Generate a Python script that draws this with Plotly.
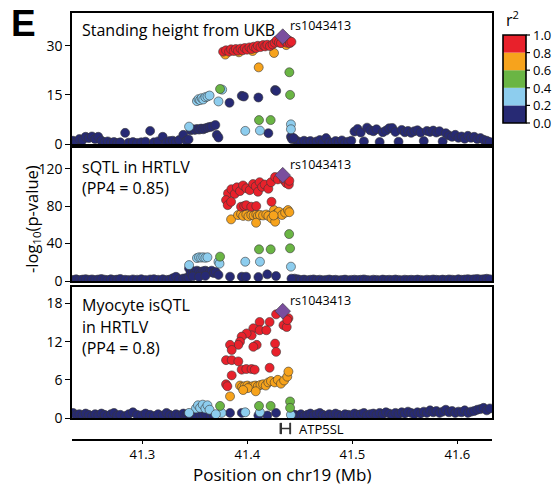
import plotly.graph_objects as go

# ---------------- data ----------------
x_range = [41.233, 41.633]
x_ticks = [41.3, 41.4, 41.5, 41.6]
x_ticktext = ["41.3", "41.4", "41.5", "41.6"]
x_title = "Position on chr19 (Mb)"

# background SNPs (r2 < 0.2) shared positions
bg_left_pos = [41.234, 41.237, 41.240, 41.243, 41.246, 41.249, 41.252, 41.255, 41.258, 41.261,
               41.264, 41.267, 41.270, 41.273, 41.276, 41.279, 41.2836, 41.287, 41.291, 41.295,
               41.299, 41.303, 41.3074, 41.311, 41.315, 41.3194, 41.323, 41.326, 41.329, 41.332,
               41.335, 41.339, 41.342, 41.344]
bg_right_pos = [41.445, 41.448, 41.451, 41.454, 41.457, 41.460, 41.463, 41.466, 41.469, 41.472,
                41.475, 41.478, 41.481, 41.484, 41.487, 41.490, 41.493, 41.496, 41.499, 41.502,
                41.505, 41.508, 41.511, 41.514, 41.517, 41.520, 41.523, 41.526, 41.529, 41.532,
                41.535, 41.538, 41.541, 41.544, 41.547, 41.550, 41.553, 41.556, 41.559, 41.562,
                41.565, 41.568, 41.571, 41.574, 41.577, 41.580, 41.583, 41.586, 41.589, 41.592,
                41.595, 41.598, 41.601, 41.604, 41.607, 41.610, 41.613, 41.616, 41.619, 41.622,
                41.625, 41.628, 41.631]

ukb_bg_left = [1.0, 0.6, 1.5, 1.2, 2.2, 1.8, 2.3, 1.5, 2.2, 1.0,
               0.5, 0.8, 0.4, 0.6, 0.3, 0.5, 3.4, 0.4, 0.6, 0.3,
               0.5, 0.7, 4.0, 0.5, 0.8, 2.2, 0.4, 0.9, 1.0, 0.6,
               1.2, 2.8, 1.0, 1.4]
ukb_bg_right = [1.5, 0.8, 0.5, 1.0, 0.6, 0.9, 0.4, 0.8, 1.2, 0.5,
                1.8, 0.6, 0.3, 0.9, 0.5, 1.1, 0.4, 0.7, 1.0, 3.8,
                4.6, 3.5, 0.8, 5.0, 4.2, 3.9, 4.5, 0.6, 3.6, 4.1,
                4.8, 4.9, 3.7, 0.7, 4.3, 3.6, 4.0, 3.4, 3.9, 4.2,
                3.5, 0.9, 4.0, 3.7, 4.1, 3.5, 3.9, 0.8, 3.3, 2.6,
                2.2, 2.8, 1.9, 2.3, 1.6, 2.5, 1.9, 2.2, 1.5, 1.8,
                1.3, 1.0, 0.6]
sqtl_bg_left = [1.2, 1.8, 1.0, 1.5, 2.0, 1.3, 1.7, 1.1, 1.6, 2.1,
                1.4, 1.0, 1.8, 1.2, 1.5, 2.2, 1.3, 1.0, 1.7, 1.4,
                1.9, 1.1, 1.6, 2.0, 1.3, 1.8, 1.2, 1.5, 3.0, 4.5,
                2.0, 2.6, 3.2, 4.0]
sqtl_bg_right = [2.5, 1.8, 1.2, 1.5, 0.9, 1.3, 1.7, 1.0, 1.4, 0.8,
                 1.2, 1.6, 1.0, 1.3, 0.7, 1.1, 1.5, 0.9, 1.2, 1.4,
                 1.0, 1.3, 1.7, 1.1, 0.8, 1.4, 1.2, 0.9, 1.5, 1.1,
                 1.3, 1.0, 1.6, 1.2, 0.9, 1.4, 1.1, 1.3, 1.0, 1.5,
                 1.2, 0.8, 1.4, 1.1, 1.6, 1.3, 1.0, 1.5, 1.2, 1.7,
                 1.4, 1.1, 1.8, 1.3, 1.6, 2.0, 1.5, 1.8, 2.2, 1.6,
                 2.0, 2.4, 1.8]
myo_bg_left = [0.8, 0.5, 0.6, 0.4, 0.7, 0.5, 0.3, 0.6, 0.4, 0.7,
               0.5, 0.3, 0.6, 0.8, 0.4, 0.5, 0.3, 0.6, 0.9, 0.5,
               0.4, 0.7, 0.5, 0.3, 0.6, 0.4, 0.8, 0.5, 0.3, 0.6,
               0.4, 0.7, 0.5, 0.6]
myo_bg_right = [0.5, 0.4, 0.6, 0.3, 0.5, 0.7, 0.4, 0.6, 0.8, 0.5,
                0.3, 0.6, 0.4, 0.7, 0.5, 0.3, 0.6, 0.5, 0.4, 0.7,
                0.5, 0.6, 0.8, 0.4, 0.6, 0.7, 0.5, 0.8, 0.6, 0.9,
                0.7, 0.5, 0.8, 0.6, 0.9, 0.7, 1.0, 0.8, 0.6, 0.9,
                0.7, 1.0, 0.8, 1.2, 0.9, 1.1, 0.8, 1.0, 1.3, 0.9,
                1.1, 0.8, 1.0, 0.9, 1.2, 0.8, 1.0, 1.1, 1.3, 1.4,
                1.6, 1.2, 1.5]

# --- Panel 1: standing height (UKB), by r2 bin ---
ukb_r0_x = [41.3830, 41.3947, 41.3967, 41.4105, 41.4264, 41.4275, 41.3460, 41.3480, 41.3500, 41.3520,
            41.3540, 41.3560, 41.3580, 41.3600, 41.3620, 41.3640, 41.3660, 41.3695, 41.3709, 41.3725,
            41.4200, 41.4415, 41.4425, 41.4440]
ukb_r0_y = [12.6, 14.7, 14.5, 14.2, 16.5, 16.2, 4.2, 4.5, 4.3, 4.6,
            4.4, 4.7, 4.5, 4.8, 5.0, 5.2, 5.3, 5.8, 2.8, 2.0,
            3.3, 2.2, 1.5, 1.8]
ukb_r2_x = [41.3520, 41.3535, 41.3550, 41.3565, 41.3580, 41.3600, 41.3620, 41.3640, 41.3725, 41.3760,
            41.3445, 41.3980, 41.4120, 41.4415, 41.4415]
ukb_r2_y = [13.1, 13.7, 13.4, 14.0, 13.6, 14.3, 14.5, 14.8, 13.0, 16.6,
            5.3, 4.0, 4.1, 6.0, 4.5]
ukb_r4_x = [41.3740, 41.4400, 41.4407, 41.4111, 41.4222]
ukb_r4_y = [16.8, 21.9, 15.0, 7.3, 7.3]
ukb_r6_x = [41.3790, 41.3920, 41.4050, 41.4254, 41.4108, 41.4370]
ukb_r6_y = [27.3, 28.0, 28.4, 27.8, 23.4, 30.2]
ukb_r8_x = [41.3769, 41.3797, 41.3826, 41.3845, 41.3870, 41.3890, 41.3911, 41.3935, 41.3955, 41.3975,
            41.3997, 41.4020, 41.4040, 41.4060, 41.4083, 41.4100, 41.4125, 41.4150, 41.4170, 41.4190,
            41.4215, 41.4240, 41.4260, 41.4280, 41.4300, 41.4320, 41.4360, 41.4380, 41.4395, 41.4405,
            41.4420]
ukb_r8_y = [28.2, 28.6, 28.2, 28.9, 28.4, 29.0, 28.5, 29.1, 28.6, 29.3,
            28.8, 29.5, 29.0, 29.7, 29.3, 30.0, 29.6, 30.2, 29.8, 30.3,
            29.9, 30.4, 30.9, 31.6, 31.0, 30.8, 31.3, 30.9, 31.6, 30.8,
            31.2]

# --- Panel 2: sQTL in HRTLV ---
sqtl_r0_x = [41.3445, 41.3460, 41.3480, 41.3500, 41.3520, 41.3540, 41.3560, 41.3580, 41.3600, 41.3620,
             41.3640, 41.3660, 41.3680, 41.3700, 41.3725, 41.3480, 41.3540, 41.3600, 41.3835, 41.3947,
             41.3988, 41.4105, 41.4190, 41.4273, 41.4420]
sqtl_r0_y = [13.5, 9.0, 10.5, 9.5, 11.0, 10.0, 9.0, 10.5, 11.0, 10.0,
             9.5, 11.0, 8.5, 9.5, 6.5, 5.0, 4.5, 5.5, 4.6, 4.6,
             4.6, 4.2, 7.1, 5.3, 2.5]
sqtl_r2_x = [41.3520, 41.3540, 41.3560, 41.3580, 41.3600, 41.3620, 41.3725, 41.3735, 41.3445, 41.3980,
             41.4120, 41.4415]
sqtl_r2_y = [24.5, 25.3, 25.0, 25.3, 24.8, 25.3, 20.6, 18.5, 17.0, 20.6,
             20.6, 15.3]
sqtl_r4_x = [41.3740, 41.4111, 41.4222, 41.4398, 41.4407]
sqtl_r4_y = [26.0, 33.8, 33.8, 50.1, 34.9]
sqtl_r6_x = [41.3845, 41.3911, 41.3940, 41.3960, 41.3990, 41.4010, 41.4037, 41.4060, 41.4085, 41.4100,
             41.4120, 41.4150, 41.4180, 41.4200, 41.4230, 41.4254, 41.4265, 41.4280, 41.4300, 41.4330,
             41.4360, 41.4387, 41.4400, 41.4083, 41.4250]
sqtl_r6_y = [65.8, 70.4, 71.5, 69.5, 71.0, 69.0, 70.5, 70.0, 71.0, 69.5,
             70.5, 70.0, 71.0, 69.5, 66.9, 75.7, 63.3, 72.0, 74.0, 70.5,
             73.0, 75.7, 73.5, 62.2, 70.0]
sqtl_r8_x = [41.3816, 41.3848, 41.3880, 41.3900, 41.3930, 41.3959, 41.3990, 41.4023, 41.4054, 41.4080,
             41.4101, 41.4117, 41.4140, 41.4165, 41.4200, 41.4226, 41.4264, 41.4290, 41.4350, 41.4371,
             41.4395, 41.4400, 41.3797, 41.3813, 41.3845, 41.3940, 41.3970, 41.3990, 41.4037, 41.4085,
             41.4230]
sqtl_r8_y = [93.5, 98.0, 93.0, 100.0, 96.0, 102.0, 99.0, 97.0, 103.5, 101.0,
             95.3, 105.5, 100.5, 103.0, 98.5, 105.5, 111.0, 108.5, 107.5, 104.5,
             103.0, 107.0, 86.4, 81.0, 84.6, 79.3, 80.0, 81.0, 79.3, 80.0,
             84.6]

# --- Panel 3: Myocyte isQTL in HRTLV ---
myo_r0_x = [41.3460, 41.3490, 41.3520, 41.3550, 41.3580, 41.3610, 41.3650, 41.3680, 41.3835, 41.3947,
            41.4190, 41.4273, 41.4105, 41.4430]
myo_r0_y = [0.4, 0.6, 0.3, 0.5, 0.4, 0.6, 0.3, 0.5, 0.8, 0.8,
            0.4, 0.8, 0.4, 0.6]
myo_r2_x = [41.3510, 41.3530, 41.3550, 41.3575, 41.3600, 41.3620, 41.3640, 41.3445, 41.3755, 41.3980,
            41.4120, 41.4415, 41.3700]
myo_r2_y = [1.5, 2.0, 1.6, 2.1, 1.5, 2.0, 1.3, 0.8, 0.8, 0.9,
            0.9, 0.5, 0.6]
myo_r4_x = [41.3740, 41.4111, 41.4222, 41.4407, 41.4407]
myo_r4_y = [1.9, 1.9, 1.9, 2.6, 1.6]
myo_r6_x = [41.3835, 41.3930, 41.3950, 41.3975, 41.4000, 41.4025, 41.4050, 41.4075, 41.4100, 41.4125,
            41.4150, 41.4175, 41.4200, 41.4225, 41.4260, 41.4290, 41.4320, 41.4350, 41.4380, 41.4391,
            41.4005, 41.4080, 41.3960]
myo_r6_y = [3.4, 5.1, 4.9, 5.0, 5.1, 4.9, 5.0, 5.1, 5.0, 5.2,
            5.3, 5.1, 5.6, 5.8, 5.6, 6.0, 5.4, 5.9, 6.5, 7.3,
            4.7, 4.2, 4.4]
myo_r8_x = [41.4274, 41.4117, 41.4212, 41.4057, 41.4117, 41.4181, 41.4041, 41.3993, 41.3946, 41.3930,
            41.3914, 41.3835, 41.3851, 41.4089, 41.4057, 41.4264, 41.4274, 41.4344, 41.4375, 41.4391,
            41.4380, 41.3797, 41.3851, 41.3914, 41.3851, 41.3946, 41.3990, 41.4040, 41.4070, 41.4212,
            41.3797, 41.3810]
myo_r8_y = [16.3, 15.1, 15.1, 14.1, 13.8, 13.8, 13.0, 13.3, 12.8, 12.0,
            11.5, 11.5, 10.7, 11.5, 11.2, 11.7, 10.4, 14.6, 14.3, 15.7,
            15.4, 9.1, 9.1, 8.9, 6.7, 7.6, 7.7, 7.7, 7.6, 7.9,
            5.3, 5.0]

lead_snp = "rs1043413"
lead_pos = 41.4337
lead_vals = [32.8, 113.0, 16.8]

panel_titles = [["Standing height from UKB"],
                ["sQTL in HRTLV", "(PP4 = 0.85)"],
                ["Myocyte isQTL", "in HRTLV", "(PP4 = 0.8)"]]
y_ranges = [[0, 40], [0, 142], [0, 20.6]]
y_ticks = [[0, 15, 30], [0, 40, 80, 120], [0, 6, 12, 18]]

gene_name = "ATP5SL"
gene_start = 41.4312
gene_end = 41.4412
exon_starts = [41.4312, 41.4322, 41.4404]
exon_ends = [41.4315, 41.4325, 41.4412]

r2_ticks = [0.0, 0.2, 0.4, 0.6, 0.8, 1.0]
r2_ticktext = ["0.0", "0.2", "0.4", "0.6", "0.8", "1.0"]

# ---------------- style ----------------
C_NAVY = "#272a74"
C_LB = "#8dcdee"
C_GREEN = "#6ab544"
C_ORANGE = "#f7a31c"
C_RED = "#e8212b"
C_PURPLE = "#7a4e9e"
bin_colors = [C_NAVY, C_LB, C_GREEN, C_ORANGE, C_RED]
FONT = "Open Sans"
PT = 9
OUTLINE = dict(color="rgba(55,55,55,0.85)", width=0.7)

fig = go.Figure()

panels = [
    (ukb_bg_left + ukb_bg_right, [(ukb_r0_x, ukb_r0_y), (ukb_r2_x, ukb_r2_y), (ukb_r4_x, ukb_r4_y),
                                  (ukb_r6_x, ukb_r6_y), (ukb_r8_x, ukb_r8_y)]),
    (sqtl_bg_left + sqtl_bg_right, [(sqtl_r0_x, sqtl_r0_y), (sqtl_r2_x, sqtl_r2_y), (sqtl_r4_x, sqtl_r4_y),
                                    (sqtl_r6_x, sqtl_r6_y), (sqtl_r8_x, sqtl_r8_y)]),
    (myo_bg_left + myo_bg_right, [(myo_r0_x, myo_r0_y), (myo_r2_x, myo_r2_y), (myo_r4_x, myo_r4_y),
                                  (myo_r6_x, myo_r6_y), (myo_r8_x, myo_r8_y)]),
]
bg_pos = bg_left_pos + bg_right_pos

for i, (bg_vals, groups) in enumerate(panels):
    xa = "x" if i == 0 else f"x{i+1}"
    ya = "y" if i == 0 else f"y{i+1}"
    fig.add_trace(go.Scatter(x=bg_pos, y=bg_vals, mode="markers", xaxis=xa, yaxis=ya,
                             marker=dict(size=PT, color=C_NAVY, line=OUTLINE), showlegend=False,
                             hoverinfo="skip"))
    for (gx, gy), col in zip(groups, bin_colors):
        fig.add_trace(go.Scatter(x=gx, y=gy, mode="markers", xaxis=xa, yaxis=ya,
                                 marker=dict(size=PT, color=col, line=OUTLINE), showlegend=False))
    fig.add_trace(go.Scatter(x=[lead_pos], y=[lead_vals[i]], mode="markers", xaxis=xa, yaxis=ya,
                             marker=dict(size=12, symbol="diamond", color=C_PURPLE, line=OUTLINE),
                             showlegend=False))

# ---------------- layout ----------------
W, H = 555, 486
ML, MR, MT, MB = 72, 63, 13, 47
plot_w = W - ML - MR
plot_h = H - MT - MB
def py(px):
    return (H - MB - px) / plot_h
def pxx(px):
    return (px - ML) / plot_w

doms = [[py(144), 1.0], [py(281), py(148)], [py(418), py(287)]]
axis_common = dict(showline=True, linecolor="black", linewidth=1.5, mirror=True, showgrid=False,
                   zeroline=False, automargin=False)
tickfont = dict(family=FONT, size=14, color="black")

layout = dict(
    width=W, height=H, margin=dict(l=ML, r=MR, t=MT, b=MB, pad=0, autoexpand=False),
    paper_bgcolor="white", plot_bgcolor="white", font=dict(family=FONT, color="black"),
)
for i in range(3):
    sfx = "" if i == 0 else str(i + 1)
    layout["xaxis" + sfx] = dict(domain=[0, 1], range=x_range, anchor="y" + sfx,
                                 showticklabels=False, ticks="", **axis_common)
    layout["yaxis" + sfx] = dict(domain=doms[i], range=y_ranges[i], anchor="x" + sfx,
                                 tickvals=y_ticks[i], ticks="outside", ticklen=5, tickwidth=1.2,
                                 tickcolor="black", tickfont=tickfont, **axis_common)
layout["xaxis4"] = dict(domain=[0, 1], range=x_range, anchor="y4", showline=True, linecolor="black",
                        linewidth=1.5, showgrid=False, zeroline=False, automargin=False,
                        tickvals=x_ticks, ticktext=x_ticktext, ticks="outside", ticklen=3,
                        tickcolor="black", tickfont=dict(family=FONT, size=13, color="black"))
layout["yaxis4"] = dict(domain=[0, py(418)], range=[0, 1], anchor="x4", visible=False)
fig.update_layout(**layout)

ann = []
shapes = []
shifts = [[-17], [-19, -40], [-18, -40, -61]]
for i, lines in enumerate(panel_titles):
    sfx = "" if i == 0 else str(i + 1)
    for ln, ys in zip(lines, shifts[i]):
        ann.append(dict(text=ln, xref="x" + sfx + " domain", yref="y" + sfx + " domain", x=0, y=1,
                        xanchor="left", yanchor="middle", xshift=8, yshift=ys, showarrow=False,
                        font=dict(family=FONT, size=16, color="black")))
    ann.append(dict(text=lead_snp, xref="x" + sfx, yref="y" + sfx, x=lead_pos, y=lead_vals[i],
                    xanchor="left", yanchor="middle", xshift=5, yshift=11, showarrow=False,
                    font=dict(family=FONT, size=12.5, color="black")))
ann.append(dict(text=gene_name, xref="x4", yref="y4", x=gene_end, y=0.5, xanchor="left",
                yanchor="middle", xshift=6, showarrow=False, font=dict(family=FONT, size=13, color="black")))
ann.append(dict(text=x_title, xref="paper", yref="paper", x=0.5, y=py(475),
                xanchor="center", yanchor="middle", showarrow=False,
                font=dict(family=FONT, size=17, color="black")))
ann.append(dict(text="-log<sub>10</sub>(p-value)", xref="paper", yref="paper",
                x=pxx(32), y=py(219), xanchor="center", yanchor="middle",
                textangle=-90, showarrow=False, font=dict(family=FONT, size=16.5, color="black")))
ann.append(dict(text="E", xref="paper", yref="paper", x=pxx(23), y=py(23),
                xanchor="center", yanchor="middle", showarrow=False,
                font=dict(family="Liberation Sans", size=37, color="black", weight="bold")))
ann.append(dict(text="r<sup>2</sup>", xref="paper", yref="paper", x=pxx(504),
                y=py(19), xanchor="left", yanchor="middle", showarrow=False,
                font=dict(family=FONT, size=16, color="black")))

# r2 colour key (drawn from r2_ticks)
cb_x0, cb_x1, cb_top, cb_bot = 503, 526, 35, 123
def cb_y(v):
    return cb_bot - v * (cb_bot - cb_top)
for k, col in enumerate(bin_colors):
    shapes.append(dict(type="rect", xref="paper", yref="paper", x0=pxx(cb_x0), x1=pxx(cb_x1),
                       y0=py(cb_y(r2_ticks[k])), y1=py(cb_y(r2_ticks[k + 1])),
                       fillcolor=col, line=dict(width=0), layer="above"))
shapes.append(dict(type="rect", xref="paper", yref="paper", x0=pxx(cb_x0), x1=pxx(cb_x1),
                   y0=py(cb_bot), y1=py(cb_top), line=dict(color="black", width=1.6), layer="above"))
for v, t in zip(r2_ticks, r2_ticktext):
    shapes.append(dict(type="line", xref="paper", yref="paper", x0=pxx(cb_x1), x1=pxx(cb_x1 + 4),
                       y0=py(cb_y(v)), y1=py(cb_y(v)), line=dict(color="black", width=1.2)))
    ann.append(dict(text=t, xref="paper", yref="paper", x=pxx(cb_x1 + 5), y=py(cb_y(v)),
                    xanchor="left", yanchor="middle", showarrow=False,
                    font=dict(family=FONT, size=13, color="black")))

# gene glyph
shapes.append(dict(type="line", xref="x4", yref="y4", x0=gene_start, x1=gene_end, y0=0.5, y1=0.5,
                   line=dict(color="#333", width=1.5)))
for s, e in zip(exon_starts, exon_ends):
    shapes.append(dict(type="rect", xref="x4", yref="y4", x0=s, x1=e, y0=0.24, y1=0.76,
                       fillcolor="#333", line=dict(color="#333", width=1)))
fig.update_layout(annotations=ann, shapes=shapes)

fig.write_html("out.html", config={"displayModeBar": False},
               post_script="document.body.style.margin='0px';document.body.style.overflow='hidden';")
